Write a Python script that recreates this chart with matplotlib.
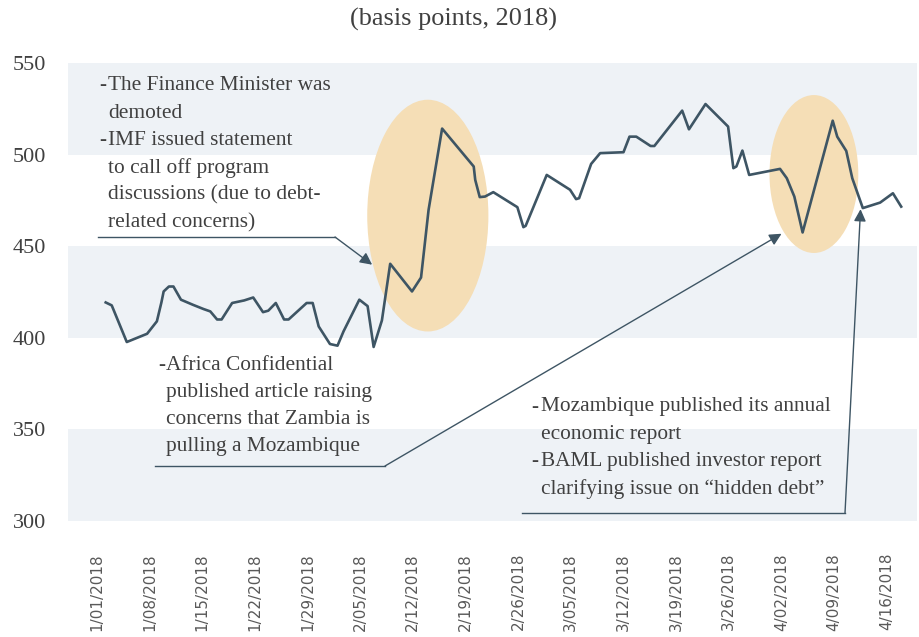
import matplotlib.pyplot as plt
from matplotlib.patches import Ellipse
from matplotlib.lines import Line2D

# days since 1 Jan 2018 and spread in basis points
days = [1.2, 2.0, 4.0, 6.7, 8.0, 8.6, 8.9, 9.6, 10.2, 11.2, 12.8, 14.2, 15.1, 16.0,
        16.6, 18.0, 19.6, 20.8, 22.1, 22.8, 23.8, 24.9, 25.5, 27.9, 28.7, 29.5,
        31.0, 32.0, 32.8, 34.9, 36.0, 36.8, 37.9, 39.0, 41.9, 43.1, 44.1, 45.9,
        50.1, 50.3, 50.9, 51.6, 52.7, 55.9, 56.7, 57.0, 59.8, 62.9, 63.7, 64.1,
        65.7, 66.9, 70.0, 70.8, 71.7, 73.6, 74.1, 77.8, 78.7, 80.9, 83.9, 84.6,
        85.0, 85.8, 86.7, 90.8, 91.7, 92.7, 93.8, 97.8, 98.4, 99.6, 100.4, 101.8,
        104.1, 105.8, 106.9]
spread = [419.3, 417.7, 397.7, 402.2, 409.0, 419.3, 425.3, 428.0, 428.0, 420.8,
          418.0, 415.7, 414.4, 410.0, 410.0, 419.0, 420.4, 422.0, 414.0, 414.8,
          419.0, 410.0, 410.0, 419.0, 419.0, 406.2, 396.6, 395.7, 403.5, 420.8,
          417.3, 395.0, 409.5, 440.4, 425.3, 432.9, 469.8, 514.2, 493.5, 486.2,
          476.8, 477.1, 479.5, 471.3, 460.4, 461.1, 488.9, 480.8, 475.7, 476.2,
          494.9, 500.8, 501.3, 509.8, 509.8, 504.7, 504.7, 524.0, 513.8, 527.6,
          515.3, 492.6, 493.5, 502.2, 488.9, 492.2, 487.1, 477.1, 457.5, 518.5,
          509.8, 502.0, 487.1, 470.8, 473.8, 478.9, 471.6]

tick_days = list(range(0, 106, 7))
tick_labels = ['1/01/2018', '1/08/2018', '1/15/2018', '1/22/2018', '1/29/2018',
               '2/05/2018', '2/12/2018', '2/19/2018', '2/26/2018', '3/05/2018',
               '3/12/2018', '3/19/2018', '3/26/2018', '4/02/2018', '4/09/2018',
               '4/16/2018']
yticks = [300, 350, 400, 450, 500, 550]

W, H = 919, 637
line_c = '#3e5564'
band_c = '#eef2f6'
txt_c = '#404040'
serif = ['Liberation Serif', 'DejaVu Serif']
fs = 15.4


def fx(x):
    return x / W


def fy(y):
    return 1 - y / H


fig = plt.figure(figsize=(W / 100, H / 100), dpi=100)
ax = fig.add_axes([fx(68), fy(521), (917 - 68) / W, (521 - 63) / H])

for lo in (300, 400, 500):
    ax.axhspan(lo, lo + 50, color=band_c, lw=0, zorder=0)

# highlighted episodes (centre day, centre bp, width days, height bp)
for cx, cy, w, h in [(44.0, 466.7, 16.1, 126.5), (95.3, 489.4, 11.8, 86.2)]:
    ax.add_patch(Ellipse((cx, cy), w, h, facecolor='#f5deb6', edgecolor='none', zorder=1))

ax.plot(days, spread, color=line_c, lw=1.9, zorder=3)

ax.set_xlim(-3.81, 109.0)
ax.set_ylim(300, 550)
ax.set_yticks(yticks)
ax.set_yticklabels([str(v) for v in yticks], fontfamily=serif, fontsize=16, color=txt_c)
ax.set_xticks(tick_days)
ax.set_xticklabels(tick_labels, rotation=90, fontfamily=['Liberation Sans Narrow', 'DejaVu Sans'],
                   fontsize=10.9, color='#595959', va='top', ha='center')
ax.tick_params(axis='x', length=0, pad=23)
ax.tick_params(axis='y', length=0, pad=16)
for s in ax.spines.values():
    s.set_visible(False)

fig.text(fx(454), fy(19), '(basis points, 2018)', ha='center', va='center',
         fontfamily=serif, fontsize=18.9, color=txt_c)


def note(x_dash, x_txt, y0, lines, dashes):
    for i, t in enumerate(lines):
        y = y0 + i * 27.3
        if i in dashes:
            fig.text(fx(x_dash), fy(y), '-', ha='left', va='center',
                     fontfamily=serif, fontsize=fs, color=txt_c)
        fig.text(fx(x_txt), fy(y), t, ha='left', va='center',
                 fontfamily=serif, fontsize=fs, color=txt_c)


def leader(x0, x1, y, tip):
    fig.add_artist(Line2D([fx(x0), fx(x1)], [fy(y), fy(y)], color=line_c, lw=1,
                          transform=fig.transFigure))
    ax.annotate('', xy=tip, xycoords='data', xytext=(fx(x1), fy(y)),
                textcoords='figure fraction',
                arrowprops=dict(arrowstyle='-|>', color=line_c, lw=1,
                                mutation_scale=18, shrinkA=0, shrinkB=0),
                zorder=4, annotation_clip=False)


note(99, 108, 86, ['The Finance Minister was', 'demoted', 'IMF issued statement',
                   'to call off program', 'discussions (due to debt-', 'related concerns)'], (0, 2))
leader(98, 335, 237, (36.6, 439.9))

note(158, 166, 365, ['Africa Confidential', 'published article raising',
                     'concerns that Zambia is', 'pulling a Mozambique'], (0,))
leader(155, 385, 466, (91.0, 456.8))

note(531, 541, 407, ['Mozambique published its annual', 'economic report',
                     'BAML published investor report', 'clarifying issue on \u201chidden debt\u201d'], (0, 2))
leader(522, 845, 513, (101.5, 470.2))

fig.savefig('out.png', dpi=100)
